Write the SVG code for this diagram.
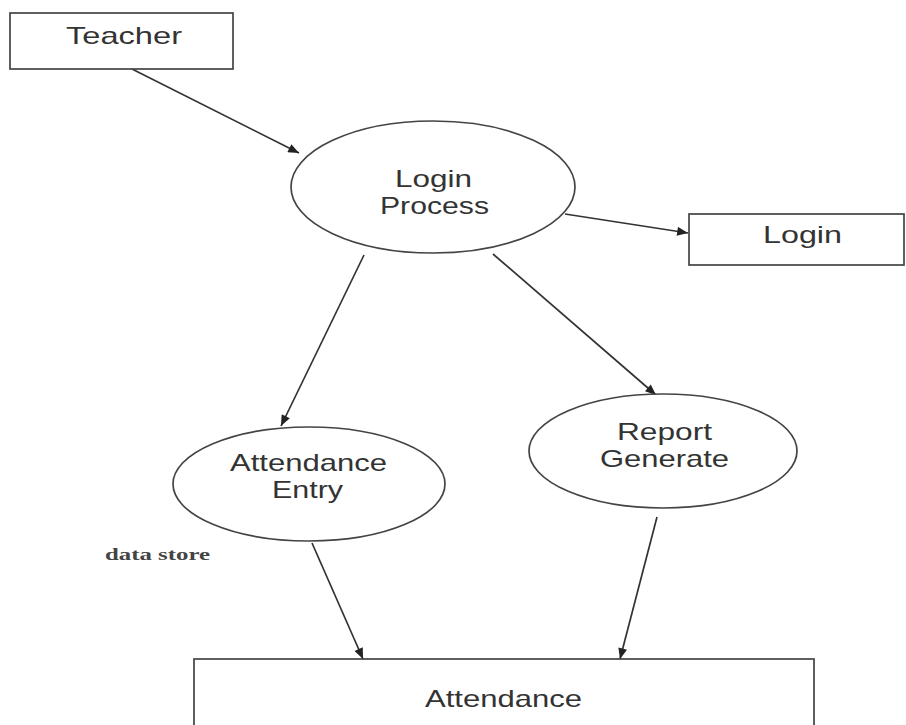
<svg xmlns="http://www.w3.org/2000/svg" width="906" height="725" viewBox="0 0 906 725">
<style>
.box{fill:#fff;stroke:#444;stroke-width:1.7}
.proc{fill:#fff;stroke:#444;stroke-width:1.7}
.lbl{font-family:"Liberation Sans",Arial,sans-serif;font-size:24px;fill:#333}
.note{font-family:"Liberation Serif","Times New Roman",serif;font-size:17px;font-weight:bold;fill:#444}
.flow{stroke:#333;stroke-width:1.7;fill:none;marker-end:url(#arr)}
</style>
<defs>
<marker id="arr" viewBox="0 0 12 10" refX="12" refY="5" markerWidth="12" markerHeight="9" markerUnits="userSpaceOnUse" orient="auto">
<path d="M0,0 L12,5 L0,10 z" fill="#222"/>
</marker>
</defs>
<rect width="906" height="725" fill="#fff"/>
<g id="connectors">
<line class="flow" x1="132" y1="69" x2="299" y2="153"/>
<line class="flow" x1="565" y1="214" x2="688" y2="233"/>
<line class="flow" x1="364" y1="255" x2="281" y2="426"/>
<line class="flow" x1="493" y1="254" x2="656" y2="395"/>
<line class="flow" x1="312" y1="543" x2="363" y2="659"/>
<line class="flow" x1="657" y1="517" x2="620" y2="659"/>
</g>
<g id="teacher">
<rect class="box" x="10" y="13" width="223" height="56"/>
<text class="lbl" x="66" y="44" textLength="116" lengthAdjust="spacingAndGlyphs">Teacher</text>
</g>
<g id="login-process">
<ellipse class="proc" cx="433" cy="187" rx="142" ry="66"/>
<text class="lbl" x="395" y="187" textLength="77" lengthAdjust="spacingAndGlyphs">Login</text>
<text class="lbl" x="380" y="214" textLength="109" lengthAdjust="spacingAndGlyphs">Process</text>
</g>
<g id="login">
<rect class="box" x="689" y="214" width="215" height="51"/>
<text class="lbl" x="763" y="243" textLength="79" lengthAdjust="spacingAndGlyphs">Login</text>
</g>
<g id="attendance-entry">
<ellipse class="proc" cx="309" cy="484" rx="136" ry="57"/>
<text class="lbl" x="230" y="471" textLength="157" lengthAdjust="spacingAndGlyphs">Attendance</text>
<text class="lbl" x="272" y="498" textLength="71" lengthAdjust="spacingAndGlyphs">Entry</text>
</g>
<g id="report-generate">
<ellipse class="proc" cx="663" cy="451" rx="134" ry="57"/>
<text class="lbl" x="617" y="440" textLength="95" lengthAdjust="spacingAndGlyphs">Report</text>
<text class="lbl" x="600" y="467" textLength="129" lengthAdjust="spacingAndGlyphs">Generate</text>
</g>
<g id="data-store-note">
<text class="note" x="105" y="560" textLength="105" lengthAdjust="spacingAndGlyphs">data store</text>
</g>
<g id="attendance">
<rect class="box" x="194" y="659" width="620" height="80"/>
<text class="lbl" x="425" y="707" textLength="157" lengthAdjust="spacingAndGlyphs">Attendance</text>
</g>
</svg>
